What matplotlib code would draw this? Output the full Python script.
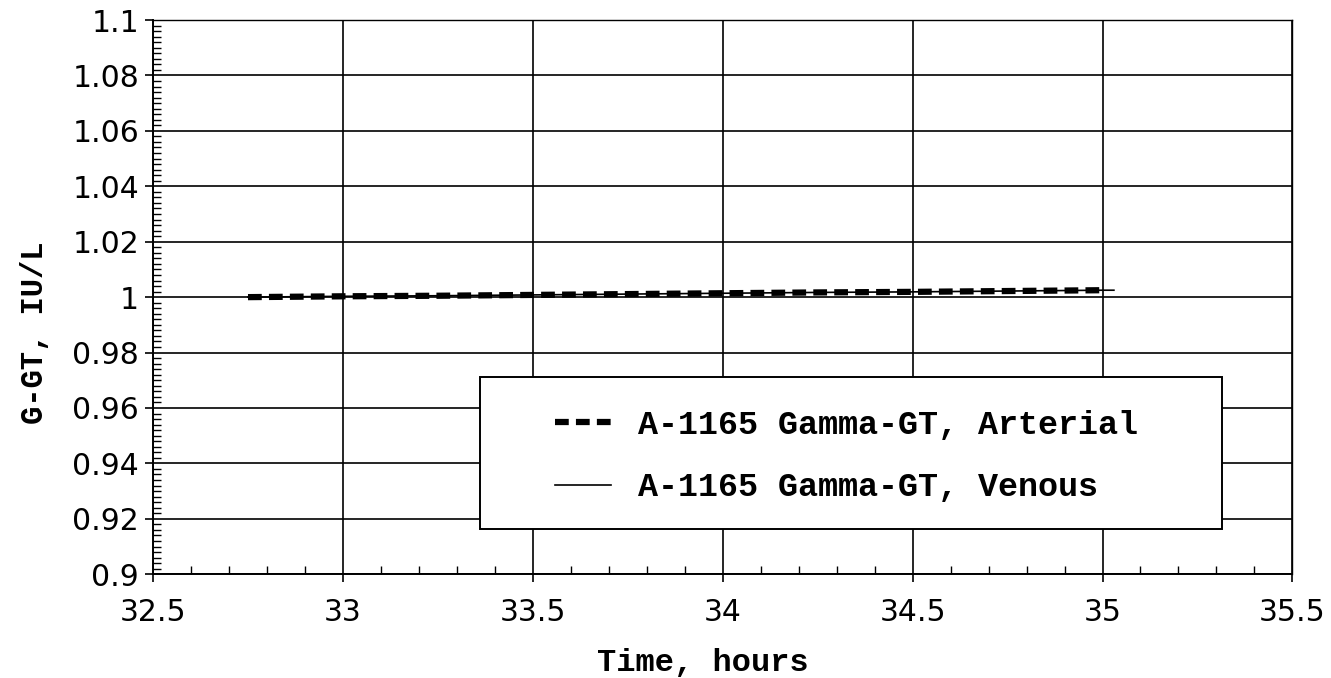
import matplotlib
matplotlib.use("Agg")
import matplotlib.pyplot as plt
from matplotlib.patches import Rectangle
from matplotlib.ticker import MultipleLocator

# Gamma-GT concentration over time, sample A-1165
time_arterial = [32.75, 33.0, 33.25, 33.5, 33.75, 34.0, 34.25, 34.5, 34.75, 35.0]
ggt_arterial = [1.0000, 1.0003, 1.0005, 1.0008, 1.0011, 1.0014, 1.0017, 1.0019, 1.0022, 1.0025]
time_venous = [32.75, 33.0, 33.25, 33.5, 33.75, 34.0, 34.25, 34.5, 34.75, 35.0, 35.03]
ggt_venous = [1.0000, 1.0003, 1.0005, 1.0008, 1.0011, 1.0014, 1.0017, 1.0019, 1.0022, 1.0025, 1.0025]

x_ticks = [32.5, 33, 33.5, 34, 34.5, 35, 35.5]
x_ticklabels = ["32.5", "33", "33.5", "34", "34.5", "35", "35.5"]
y_ticks = [0.9, 0.92, 0.94, 0.96, 0.98, 1.0, 1.02, 1.04, 1.06, 1.08, 1.1]
y_ticklabels = ["0.9", "0.92", "0.94", "0.96", "0.98", "1", "1.02", "1.04", "1.06", "1.08", "1.1"]

TEXT_FONT = ["Liberation Mono", "DejaVu Sans Mono"]
TICK_FONT = ["DejaVu Sans"]

fig = plt.figure(figsize=(13.31, 6.78), dpi=100)
ax = fig.add_axes([0.115, 0.153, 0.856, 0.8175])

ax.plot(time_venous, ggt_venous, color="black", lw=1.2,
        label="A-1165 Gamma-GT, Venous", zorder=3)
ax.plot(time_arterial, ggt_arterial, color="black", lw=4.5,
        dashes=(2.2, 1.15), label="A-1165 Gamma-GT, Arterial", zorder=4)

ax.set_xlim(32.5, 35.5)
ax.set_ylim(0.9, 1.1)
ax.set_xticks(x_ticks)
ax.set_xticklabels(x_ticklabels, family=TICK_FONT, fontsize=21.5)
ax.set_yticks(y_ticks)
ax.set_yticklabels(y_ticklabels, family=TICK_FONT, fontsize=21.5)
ax.xaxis.set_minor_locator(MultipleLocator(0.1))
ax.yaxis.set_minor_locator(MultipleLocator(0.002))

ax.grid(True, which="major", color="black", lw=1.2)
ax.tick_params(axis="both", which="major", direction="out", length=6,
               width=1.2, pad=4)
ax.tick_params(axis="both", which="minor", direction="in", length=6, width=1.0)
ax.tick_params(axis="x", which="major", pad=11)
for spine in ax.spines.values():
    spine.set_linewidth(1.4)
ax.spines["top"].set_linewidth(1.0)
ax.spines["right"].set_linewidth(1.0)

ax.set_xlabel("Time, hours", fontsize=23, family=TEXT_FONT, weight="bold")
ax.set_ylabel("G-GT, IU/L", fontsize=22, family=TEXT_FONT, weight="bold")
ax.xaxis.set_label_coords(0.483, -0.133)
ax.yaxis.set_label_coords(-0.0905, 0.435)

# Legend box drawn as a white panel over the grid
ax.add_patch(Rectangle((0.287, 0.0815), 0.651, 0.275, transform=ax.transAxes,
                       facecolor="white", edgecolor="black", lw=1.4, zorder=5))

handles, labels = ax.get_legend_handles_labels()
leg = ax.legend(handles[::-1], labels[::-1], loc="upper left",
                bbox_to_anchor=(0.353, 0.297), frameon=False,
                prop={"family": TEXT_FONT, "weight": "bold", "size": 24},
                handlelength=1.67, handletextpad=0.8,
                labelspacing=0.95, borderpad=0, borderaxespad=0)
leg.set_zorder(6)

fig.savefig("out.png", dpi=100, facecolor="white")
